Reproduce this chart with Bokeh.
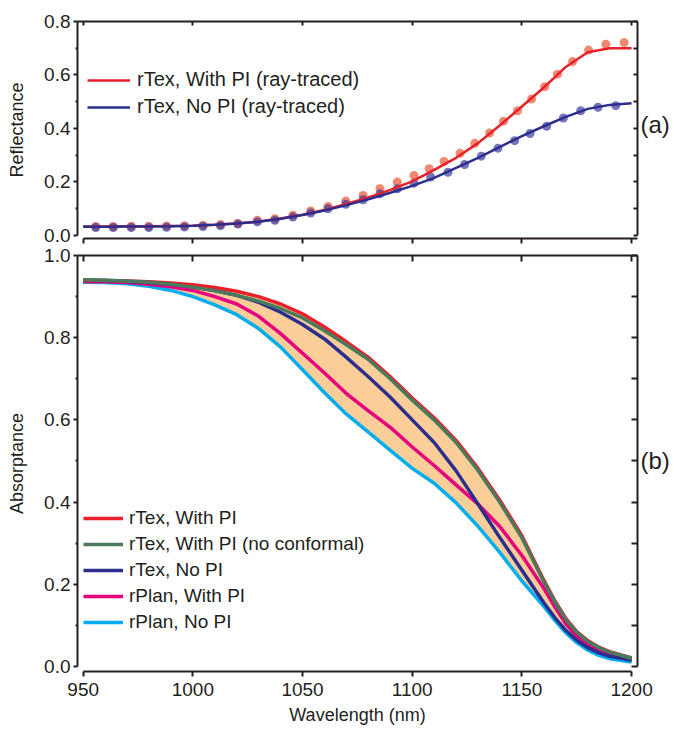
from bokeh.plotting import figure
from bokeh.models import (Range1d, LinearAxis, FixedTicker, PrintfTickFormatter,
                          CustomJSTickFormatter, Legend, LegendItem)
from bokeh.layouts import column
from bokeh.embed import file_html
from bokeh.resources import INLINE

# ---------------- data ----------------
wl_a = [950, 960, 970, 980, 990, 1000, 1010, 1020, 1030, 1040, 1050, 1060, 1070,
        1080, 1090, 1100, 1110, 1120, 1130, 1140, 1150, 1160, 1170, 1180, 1190, 1200]

# (a) reflectance, lines
refl_with_pi = [0.033, 0.033, 0.034, 0.034, 0.035, 0.036, 0.039, 0.044, 0.052, 0.063,
                0.077, 0.095, 0.117, 0.142, 0.170, 0.202, 0.245, 0.290, 0.345, 0.412,
                0.482, 0.553, 0.630, 0.685, 0.700, 0.700]
refl_no_pi = [0.032, 0.032, 0.033, 0.033, 0.034, 0.036, 0.039, 0.044, 0.051, 0.062,
              0.076, 0.093, 0.113, 0.135, 0.159, 0.185, 0.215, 0.252, 0.290, 0.331,
              0.371, 0.408, 0.443, 0.473, 0.488, 0.494]

# (a) ray-traced points
rt_with_wl = [955.7, 963.7, 971.9, 979.9, 988.0, 996.2, 1004.6, 1012.6, 1020.5, 1029.4,
              1037.4, 1045.6, 1053.7, 1061.6, 1069.7, 1077.6, 1085.3, 1093.2, 1100.8,
              1107.7, 1114.5, 1121.8, 1128.5, 1135.3, 1141.6, 1148.0, 1154.4, 1160.4,
              1166.2, 1173.1, 1180.4, 1188.3, 1196.6]
rt_with_val = [0.033, 0.033, 0.034, 0.034, 0.035, 0.036, 0.038, 0.040, 0.044, 0.056,
               0.062, 0.075, 0.091, 0.108, 0.128, 0.149, 0.174, 0.199, 0.224,
               0.249, 0.276, 0.307, 0.344, 0.383, 0.427, 0.466, 0.510, 0.556,
               0.603, 0.650, 0.693, 0.715, 0.721]
rt_no_wl = [955.7, 963.7, 971.9, 979.9, 988.0, 996.2, 1004.6, 1012.6, 1020.5, 1029.4,
            1037.4, 1045.6, 1053.7, 1061.6, 1069.7, 1077.6, 1085.3, 1093.2, 1100.8,
            1108.4, 1116.3, 1123.9, 1131.5, 1139.1, 1146.7, 1153.7, 1161.3, 1168.9,
            1176.8, 1184.7, 1192.8]
rt_no_val = [0.029, 0.029, 0.029, 0.029, 0.030, 0.031, 0.033, 0.036, 0.042, 0.050,
             0.056, 0.068, 0.083, 0.099, 0.116, 0.133, 0.155, 0.174, 0.195,
             0.218, 0.236, 0.265, 0.296, 0.326, 0.354, 0.381, 0.408, 0.439,
             0.466, 0.479, 0.485]

# (b) absorptance
wl_b = [950, 960, 970, 980, 990, 1000, 1010, 1020, 1030, 1040, 1050, 1060, 1070,
        1080, 1090, 1100, 1110, 1120, 1130, 1140, 1150, 1160, 1165, 1170, 1175,
        1180, 1185, 1190, 1200]
abs_rtex_pi = [0.940, 0.939, 0.938, 0.936, 0.933, 0.929, 0.922, 0.913, 0.900, 0.882,
               0.858, 0.826, 0.790, 0.752, 0.705, 0.653, 0.605, 0.550, 0.482, 0.404,
               0.318, 0.210, 0.160, 0.117, 0.085, 0.063, 0.047, 0.036, 0.021]
abs_rtex_pi_nc = [0.941, 0.940, 0.938, 0.935, 0.930, 0.923, 0.914, 0.903, 0.889, 0.871,
                  0.848, 0.817, 0.783, 0.747, 0.700, 0.648, 0.600, 0.545, 0.477, 0.399,
                  0.313, 0.206, 0.157, 0.114, 0.083, 0.061, 0.046, 0.035, 0.020]
abs_rtex_nopi = [0.940, 0.939, 0.937, 0.934, 0.930, 0.924, 0.915, 0.903, 0.886, 0.862,
                 0.832, 0.797, 0.752, 0.705, 0.655, 0.600, 0.545, 0.476, 0.395, 0.313,
                 0.234, 0.155, 0.119, 0.088, 0.064, 0.046, 0.033, 0.025, 0.015]
abs_rplan_pi = [0.937, 0.936, 0.934, 0.930, 0.924, 0.915, 0.900, 0.882, 0.852, 0.810,
                0.762, 0.714, 0.664, 0.622, 0.582, 0.534, 0.489, 0.442, 0.395, 0.340,
                0.270, 0.190, 0.145, 0.104, 0.074, 0.053, 0.039, 0.029, 0.017]
abs_rplan_nopi = [0.935, 0.934, 0.931, 0.925, 0.915, 0.900, 0.880, 0.856, 0.822, 0.777,
                  0.722, 0.666, 0.614, 0.570, 0.526, 0.482, 0.446, 0.398, 0.341, 0.277,
                  0.208, 0.146, 0.112, 0.082, 0.058, 0.040, 0.027, 0.019, 0.011]

x_ticks = [950, 1000, 1050, 1100, 1150, 1200]
ya_ticks = [0.0, 0.2, 0.4, 0.6, 0.8]
ya_minor = [0.1, 0.3, 0.5, 0.7]
yb_ticks = [0.0, 0.2, 0.4, 0.6, 0.8, 1.0]
yb_minor = [0.1, 0.3, 0.5, 0.7, 0.9]
panel_a_pos = 0.416
panel_b_pos = 0.5

# ---------------- style ----------------
FONT = "Liberation Sans"
INK = "#231F20"
C_RED = "#E8202A"
C_NAVY = "#2B2E8C"
C_GREEN = "#4A7A5E"
C_MAG = "#E6007E"
C_CYAN = "#00AEEF"
C_BAND = "#FBCD98"

XR = (947.4, 1202.7)


def line_style(ax):
    ax.axis_line_color = INK
    ax.axis_line_width = 2
    ax.major_tick_line_color = INK
    ax.major_tick_line_width = 2
    ax.minor_tick_line_color = INK
    ax.minor_tick_line_width = 2
    ax.major_label_text_font = FONT
    ax.major_label_text_font_size = "19px"
    ax.major_label_text_color = INK
    ax.axis_label_text_font = FONT
    ax.axis_label_text_font_size = "18px"
    ax.axis_label_text_font_style = "normal"
    ax.axis_label_text_color = INK


def make_fig(fh, yr, ylab, yt, ym, ybound, tick_len, mbt, mbb, xlabel, panel_txt, panel_pos):
    p = figure(frame_width=560, frame_height=fh, output_backend="svg",
               toolbar_location=None, x_range=Range1d(*XR), y_range=Range1d(*yr),
               min_border_left=77, min_border_right=37,
               min_border_top=mbt, min_border_bottom=mbb)
    p.outline_line_color = None
    p.xgrid.grid_line_color = None
    p.ygrid.grid_line_color = None
    p.background_fill_color = "white"
    p.border_fill_color = "white"

    # left
    la = p.yaxis[0]
    la.ticker = FixedTicker(ticks=yt, minor_ticks=ym)
    la.formatter = PrintfTickFormatter(format="%.1f")
    la.axis_label = ylab
    la.bounds = ybound
    line_style(la)
    la.major_tick_in = 0
    la.major_tick_out = 4
    la.minor_tick_in = 0
    la.minor_tick_out = 2
    la.major_label_standoff = 3
    la.axis_label_standoff = 14

    # bottom
    ba = p.xaxis[0]
    line_style(ba)
    ba.major_tick_in = 0
    ba.minor_tick_in = 0
    if xlabel:
        ba.ticker = FixedTicker(ticks=x_ticks, minor_ticks=[])
        ba.axis_label = xlabel
        ba.major_tick_out = 5
        ba.minor_tick_out = 0
        ba.major_label_standoff = 6
        ba.axis_label_standoff = 6
        ba.bounds = (950, 1200)
    else:
        ba.ticker = FixedTicker(ticks=[], minor_ticks=x_ticks)
        ba.major_tick_out = 0
        ba.minor_tick_out = 5
        ba.major_label_standoff = 0
        ba.bounds = (950, XR[1])

    # right (inward ticks, panel tag as the only label)
    ra = LinearAxis(ticker=FixedTicker(ticks=[panel_pos], minor_ticks=yt + ym),
                    bounds=ybound,
                    formatter=CustomJSTickFormatter(code="return '%s';" % panel_txt))
    line_style(ra)
    ra.major_tick_in = 0
    ra.major_tick_out = 0
    ra.minor_tick_in = tick_len
    ra.minor_tick_out = 0
    ra.major_label_standoff = 3
    ra.major_label_text_font_size = "24px"
    p.add_layout(ra, "right")

    # top (inward ticks, no labels)
    ta = LinearAxis(ticker=FixedTicker(ticks=[], minor_ticks=x_ticks))
    line_style(ta)
    ta.major_tick_in = 0
    ta.major_tick_out = 0
    ta.minor_tick_in = tick_len
    ta.minor_tick_out = 0
    ta.major_label_standoff = 0
    p.add_layout(ta, "above")
    return p


# ---------------- panel (a) ----------------
pa = make_fig(217, (-0.012, 0.8), "Reflectance", ya_ticks, ya_minor, (0, 0.8), 4,
              21, 8, None, "(a)", panel_a_pos)
pa.scatter(rt_with_wl, rt_with_val, size=9, fill_color="#EE5A3A", fill_alpha=0.72,
           line_color=None)
pa.scatter(rt_no_wl, rt_no_val, size=9, fill_color="#3C3A9E", fill_alpha=0.7,
           line_color=None)
ra1 = pa.line(wl_a, refl_with_pi, line_color=C_RED, line_width=2.5)
ra2 = pa.line(wl_a, refl_no_pi, line_color=C_NAVY, line_width=2.5)

leg_a = Legend(items=[LegendItem(label="rTex, With PI (ray-traced)", renderers=[ra1]),
                      LegendItem(label="rTex, No PI (ray-traced)", renderers=[ra2])],
               location=(10, 120))
leg_a.padding = 0
leg_a.margin = 0
leg_a.spacing = 4
leg_a.glyph_width = 43
leg_a.glyph_height = 22
leg_a.label_height = 22
leg_a.label_standoff = 7
leg_a.label_text_font = FONT
leg_a.label_text_font_size = "20px"
leg_a.label_text_color = INK
leg_a.background_fill_alpha = 0
leg_a.border_line_color = None
pa.add_layout(leg_a)

# ---------------- panel (b) ----------------
pb = make_fig(416, (-0.0122, 1.0), "Absorptance", yb_ticks, yb_minor, (0, 1.0), 6,
              9, 60, "Wavelength (nm)", "(b)", panel_b_pos)
pb.varea(x=wl_b, y1=abs_rplan_nopi, y2=abs_rtex_pi, fill_color=C_BAND)
rb5 = pb.line(wl_b, abs_rplan_nopi, line_color=C_CYAN, line_width=3.5)
rb4 = pb.line(wl_b, abs_rplan_pi, line_color=C_MAG, line_width=3.5)
rb3 = pb.line(wl_b, abs_rtex_nopi, line_color=C_NAVY, line_width=3.5)
rb1 = pb.line(wl_b, abs_rtex_pi, line_color=C_RED, line_width=3.5)
rb2 = pb.line(wl_b, abs_rtex_pi_nc, line_color=C_GREEN, line_width=3.5)

leg_b = Legend(items=[LegendItem(label="rTex, With PI", renderers=[rb1]),
                      LegendItem(label="rTex, With PI (no conformal)", renderers=[rb2]),
                      LegendItem(label="rTex, No PI", renderers=[rb3]),
                      LegendItem(label="rPlan, With PI", renderers=[rb4]),
                      LegendItem(label="rPlan, No PI", renderers=[rb5])],
               location=(6, 38))
leg_b.padding = 0
leg_b.margin = 0
leg_b.spacing = 4
leg_b.glyph_width = 40
leg_b.glyph_height = 22
leg_b.label_height = 22
leg_b.label_standoff = 6
leg_b.label_text_font = FONT
leg_b.label_text_font_size = "19px"
leg_b.label_text_color = INK
leg_b.background_fill_alpha = 0
leg_b.border_line_color = None
pb.add_layout(leg_b)

layout = column(pa, pb, spacing=0)
open("out.html", "w").write(file_html(layout, INLINE))
